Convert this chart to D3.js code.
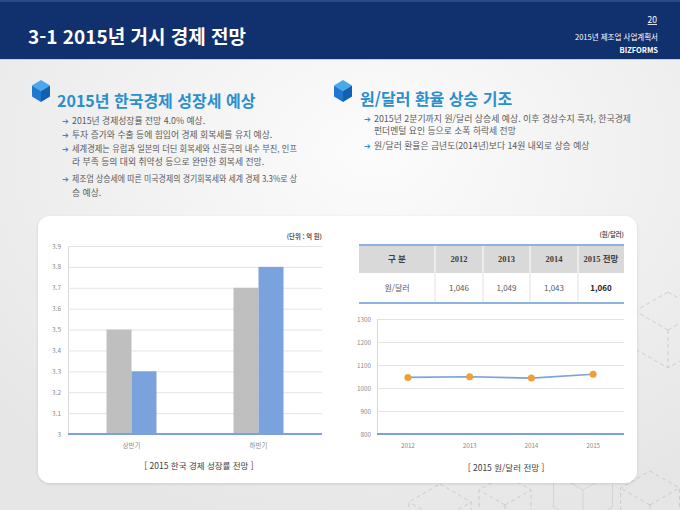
<!DOCTYPE html>
<html lang="ko">
<head>
<meta charset="utf-8">
<script src="https://cdn.jsdelivr.net/npm/d3@7"></script>
<style>
  body { margin: 0; background: #ececec; }
  svg { display: block; font-family: "Noto Sans CJK KR", "Noto Sans", sans-serif; }
</style>
</head>
<body>
<div id="slide"></div>
<script>
// ---- data ----
const halfCats = ["상반기", "하반기"];
const growthGray = [3.5, 3.7];
const growthBlue = [3.3, 3.8];
const growthTicks = [3, 3.1, 3.2, 3.3, 3.4, 3.5, 3.6, 3.7, 3.8, 3.9];

const fxYears = ["2012", "2013", "2014", "2015"];
const fxRates = [1046, 1049, 1043, 1060];
const fxTicks = [800, 900, 1000, 1100, 1200, 1300];

const tableHead = ["구 분", "2012", "2013", "2014", "2015 전망"];
const tableRowLabel = "원/달러";

const leftBullets = [
  ["2015년 경제성장률 전망 4.0% 예상."],
  ["투자 증가와 수출 등에 힘입어 경제 회복세를 유지 예상."],
  ["세계경제는 유럽과 일본의 더딘 회복세와 신흥국의 내수 부진, 인프", "라 부족 등의 대외 취약성 등으로 완만한 회복세 전망."],
  ["제조업 상승세에 따른 미국경제의 경기회복세와 세계 경제 3.3%로 상", "승 예상."]
];
const rightBullets = [
  ["2015년 2분기까지 원/달러 상승세 예상. 이후 경상수지 흑자, 한국경제", "펀더멘털 요인 등으로 소폭 하락세 전망"],
  ["원/달러 환율은 금년도(2014년)보다 14원 내외로 상승 예상"]
];

(function() {
  const W = 680, H = 510;
  const svg = d3.select("#slide").append("svg")
    .attr("width", W).attr("height", H);

  const defs = svg.append("defs");
  const bg = defs.append("radialGradient").attr("id", "bg")
    .attr("cx", "55%").attr("cy", "30%").attr("r", "75%");
  bg.append("stop").attr("offset", "0%").attr("stop-color", "#fcfcfc");
  bg.append("stop").attr("offset", "100%").attr("stop-color", "#e6e6e6");
  const sh = defs.append("filter").attr("id", "shadow")
    .attr("x", "-5%").attr("y", "-5%").attr("width", "110%").attr("height", "110%");
  sh.append("feDropShadow").attr("dx", 0).attr("dy", 1).attr("stdDeviation", 1.5)
    .attr("flood-color", "#000").attr("flood-opacity", 0.12);

  svg.append("rect").attr("width", W).attr("height", H).attr("fill", "url(#bg)");

  // dashed hexagon decoration
  function hexCube(cx, cy, r, dashed) {
    const pts = d3.range(6).map(k => {
      const a = (Math.PI / 180) * (-90 + 60 * k);
      return [cx + r * Math.cos(a), cy + r * Math.sin(a)];
    });
    const g = svg.append("g").attr("fill", "none")
      .attr("stroke", dashed ? "#c4c4c4" : "#cfcfcf").attr("stroke-width", 0.8)
      .attr("stroke-dasharray", dashed ? "4,3" : null);
    g.append("path").attr("d", d3.line()(pts) + "Z");
    [1, 3, 5].forEach(i => g.append("line")
      .attr("x1", cx).attr("y1", cy).attr("x2", pts[i][0]).attr("y2", pts[i][1]));
  }
  hexCube(668, 330, 38, true);
  hexCube(440, 520, 36, true);
  hexCube(505, 505, 30, true);
  hexCube(583, 490, 34, false);
  hexCube(650, 505, 34, true);

  // ---- header ----
  svg.append("rect").attr("width", W).attr("height", 59).attr("fill", "#11306e");
  svg.append("rect").attr("y", 0).attr("width", W).attr("height", 2).attr("fill", "#2a4a8c");
  svg.append("rect").attr("y", 59).attr("width", W).attr("height", 1).attr("fill", "#c9d0dc");
  svg.append("text").attr("x", 28).attr("y", 44)
    .attr("fill", "#fff").attr("font-size", 19).attr("font-weight", "bold")
    .text("3-1 2015년 거시 경제 전망");
  const hr = svg.append("g").attr("fill", "#fff").attr("text-anchor", "end");
  hr.append("text").attr("x", 657).attr("y", 23).attr("font-size", 8.5)
    .attr("text-decoration", "underline").text("20");
  hr.append("text").attr("x", 658).attr("y", 40).attr("font-size", 7.5)
    .text("2015년 제조업 사업계획서");
  hr.append("text").attr("x", 658).attr("y", 53).attr("font-size", 7.5)
    .attr("font-weight", "bold").text("BIZFORMS");

  // ---- section headings ----
  function cube(cx, cy) {
    const rx = 9, ry = 11;
    const top = [cx, cy - ry], tr = [cx + rx, cy - ry / 2], br = [cx + rx, cy + ry / 2],
          bot = [cx, cy + ry], bl = [cx - rx, cy + ry / 2], tl = [cx - rx, cy - ry / 2],
          mid = [cx, cy];
    const g = svg.append("g");
    g.append("path").attr("d", d3.line()([top, tr, mid, tl]) + "Z").attr("fill", "#4aa8ee");
    g.append("path").attr("d", d3.line()([tl, mid, bot, bl]) + "Z").attr("fill", "#1f78d0");
    g.append("path").attr("d", d3.line()([mid, tr, br, bot]) + "Z").attr("fill", "#1160b4");
  }
  cube(41, 91);
  cube(343, 91);

  svg.append("text").attr("x", 57).attr("y", 107).attr("font-size", 16)
    .attr("font-weight", "bold").attr("fill", "#2a8fcf").text("2015년 한국경제 성장세 예상");
  svg.append("text").attr("x", 360).attr("y", 105).attr("font-size", 16)
    .attr("font-weight", "bold").attr("fill", "#2a8fcf").text("원/달러 환율 상승 기조");

  // ys: one baseline per printed line
  function bullets(items, x, ys, rightEdge) {
    let k = 0;
    items.forEach(lines => {
      svg.append("text").attr("x", x).attr("y", ys[k])
        .attr("font-family", "DejaVu Sans").attr("font-size", 8)
        .attr("fill", "#2a8fcf").text("➔");
      lines.forEach((ln, i) => {
        const t = svg.append("text").attr("x", x + 10).attr("y", ys[k])
          .attr("font-size", 8.8).attr("fill", "#5a5a5a").text(ln);
        if (i < lines.length - 1) {
          t.attr("textLength", rightEdge - x - 10).attr("lengthAdjust", "spacingAndGlyphs");
        }
        k++;
      });
    });
  }
  bullets(leftBullets, 62, [124, 138, 152, 165, 182, 196], 297);
  bullets(rightBullets, 364, [122, 134, 149], 631);

  // ---- white panel ----
  svg.append("rect").attr("x", 38).attr("y", 216).attr("width", 599).attr("height", 267)
    .attr("rx", 12).attr("fill", "#fff").attr("filter", "url(#shadow)");

  // ---- bar chart ----
  const bx0 = 68, bx1 = 322, by0 = 434, by1 = 246;
  const xBar = d3.scaleBand().domain(halfCats).range([bx0, bx1]);
  const half = 25;
  const xSub = d3.scaleBand().domain(["gray", "blue"])
    .range([xBar.bandwidth() / 2 - half, xBar.bandwidth() / 2 + half]);
  const yBar = d3.scaleLinear().domain([3, 3.9]).range([by0, by1]);

  const yAxB = svg.append("g").attr("transform", `translate(${bx0},0)`)
    .call(d3.axisLeft(yBar).tickValues(growthTicks).tickSize(-(bx1 - bx0))
      .tickPadding(7).tickFormat(d => d3.format("")(d)));
  yAxB.select(".domain").attr("stroke", "#d9d9d9");
  yAxB.selectAll(".tick line").attr("stroke", "#e3e3e3");
  yAxB.selectAll(".tick text").attr("fill", "#8a8a8a").attr("font-size", 6.5)
    .attr("font-family", "Noto Sans CJK KR");

  const barG = svg.append("g");
  barG.selectAll(".g").data(halfCats.map((c, i) => ({c, v: growthGray[i]})))
    .join("rect").attr("x", d => xBar(d.c) + xSub("gray")).attr("width", xSub.bandwidth())
    .attr("y", d => yBar(d.v)).attr("height", d => by0 - yBar(d.v)).attr("fill", "#bfbfbf");
  barG.selectAll(".b").data(halfCats.map((c, i) => ({c, v: growthBlue[i]})))
    .join("rect").attr("x", d => xBar(d.c) + xSub("blue")).attr("width", xSub.bandwidth())
    .attr("y", d => yBar(d.v)).attr("height", d => by0 - yBar(d.v)).attr("fill", "#7aa2dc");

  svg.append("line").attr("x1", bx0).attr("x2", bx1).attr("y1", by0).attr("y2", by0)
    .attr("stroke", "#7aa2dc").attr("stroke-width", 2);

  const xAxB = svg.append("g").attr("transform", `translate(0,${by0})`)
    .call(d3.axisBottom(xBar).tickSize(0).tickPadding(9));
  xAxB.select(".domain").remove();
  xAxB.selectAll(".tick text").attr("fill", "#8a8a8a").attr("font-size", 6.5)
    .attr("font-family", "Noto Sans CJK KR");

  svg.append("text").attr("x", 322).attr("y", 239).attr("text-anchor", "end")
    .attr("font-size", 6.3).attr("font-weight", "bold").attr("fill", "#555").text("(단위 : 억 원)");
  svg.append("text").attr("x", 199).attr("y", 469).attr("text-anchor", "middle")
    .attr("font-size", 8.5).attr("fill", "#404040").text("[ 2015 한국 경제 성장률 전망 ]");

  // ---- table ----
  const colEdges = [359, 435, 483, 530, 578, 624];
  const rowTop = 245, rowMid = 273, rowBot = 303;
  svg.append("rect").attr("x", colEdges[0]).attr("y", rowTop)
    .attr("width", colEdges[5] - colEdges[0]).attr("height", rowMid - rowTop).attr("fill", "#d9d9d9");
  colEdges.slice(1, 5).forEach(x => {
    svg.append("line").attr("x1", x).attr("x2", x).attr("y1", rowTop).attr("y2", rowMid)
      .attr("stroke", "#fff").attr("stroke-width", 1);
    svg.append("line").attr("x1", x).attr("x2", x).attr("y1", rowMid).attr("y2", rowBot)
      .attr("stroke", "#d9d9d9").attr("stroke-width", 0.8);
  });
  [rowTop, rowBot].forEach(y => svg.append("line")
    .attr("x1", colEdges[0]).attr("x2", colEdges[5]).attr("y1", y).attr("y2", y)
    .attr("stroke", "#8db3e2").attr("stroke-width", 2));

  tableHead.forEach((h, i) => {
    svg.append("text").attr("x", (colEdges[i] + colEdges[i + 1]) / 2).attr("y", (rowTop + rowMid) / 2 + 3)
      .attr("text-anchor", "middle").attr("font-size", 8.5).attr("font-weight", "bold")
      .attr("font-family", "Liberation Serif, Noto Sans CJK KR")
      .attr("fill", "#404040").text(h);
  });
  const fmt = d3.format(",");
  [tableRowLabel].concat(fxRates.map(fmt)).forEach((v, i) => {
    svg.append("text").attr("x", (colEdges[i] + colEdges[i + 1]) / 2).attr("y", (rowMid + rowBot) / 2 + 3)
      .attr("text-anchor", "middle").attr("font-size", 8)
      .attr("font-weight", i === 4 ? "bold" : "normal")
      .attr("fill", i === 4 ? "#222" : "#595959").text(v);
  });
  svg.append("text").attr("x", 624).attr("y", 237).attr("text-anchor", "end")
    .attr("font-size", 6.3).attr("font-weight", "bold").attr("fill", "#555").text("(원/달러)");

  // ---- line chart ----
  const lx0 = 377, lx1 = 624, ly0 = 434, ly1 = 319;
  const xLine = d3.scaleBand().domain(fxYears).range([lx0, lx1]);
  const yLine = d3.scaleLinear().domain([800, 1300]).range([ly0, ly1]);

  const yAxL = svg.append("g").attr("transform", `translate(${lx0},0)`)
    .call(d3.axisLeft(yLine).tickValues(fxTicks).tickSize(-(lx1 - lx0)).tickPadding(6)
      .tickFormat(d3.format("")));
  yAxL.select(".domain").attr("stroke", "#d9d9d9");
  yAxL.selectAll(".tick line").attr("stroke", "#e3e3e3");
  yAxL.selectAll(".tick text").attr("fill", "#8a8a8a").attr("font-size", 6.3)
    .attr("font-family", "Noto Sans CJK KR");

  svg.append("line").attr("x1", lx0).attr("x2", lx1).attr("y1", ly0).attr("y2", ly0)
    .attr("stroke", "#7aa2dc").attr("stroke-width", 2);

  const pts = fxYears.map((y, i) => [xLine(y) + xLine.bandwidth() / 2, yLine(fxRates[i])]);
  svg.append("path").attr("d", d3.line()(pts)).attr("fill", "none")
    .attr("stroke", "#7aa2dc").attr("stroke-width", 1.6);
  svg.selectAll(".pt").data(pts).join("circle")
    .attr("cx", d => d[0]).attr("cy", d => d[1]).attr("r", 3.5).attr("fill", "#ee9f38");

  const xAxL = svg.append("g").attr("transform", `translate(0,${ly0})`)
    .call(d3.axisBottom(xLine).tickSize(0).tickPadding(10));
  xAxL.select(".domain").remove();
  xAxL.selectAll(".tick text").attr("fill", "#8a8a8a").attr("font-size", 6.3)
    .attr("font-family", "Noto Sans CJK KR");

  svg.append("text").attr("x", 506).attr("y", 471).attr("text-anchor", "middle")
    .attr("font-size", 8.5).attr("fill", "#404040").text("[ 2015 원/달러 전망 ]");
})();
</script>
</body>
</html>
